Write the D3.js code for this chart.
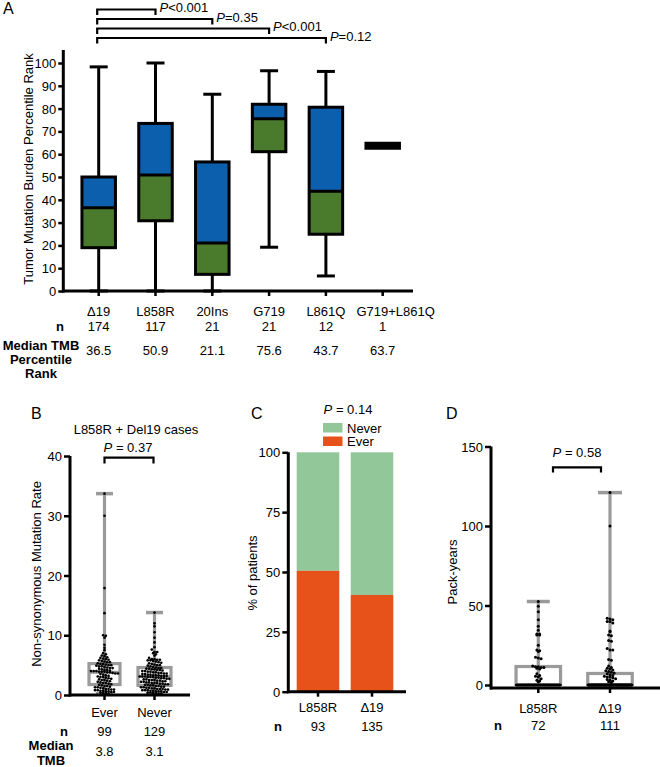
<!DOCTYPE html>
<html><head><meta charset="utf-8">
<script src="https://cdn.jsdelivr.net/npm/d3@7/dist/d3.min.js"></script>
<style>
body{margin:0;background:#fff}
svg{display:block;font-family:"Liberation Sans",Arial,Helvetica,sans-serif}
</style>
</head><body>
<svg id="chart" width="660" height="767"></svg>
<script>
// ---------- Panel A data ----------
const mutationTypes = ["Δ19","L858R","20Ins","G719","L861Q","G719+L861Q"];
const mutationN = [174,117,21,21,12,1];
const tmbMin    = [0,0,0,19.2,6.6,63.7];
const tmbQ1     = [19.0,30.8,7.3,61.1,24.9,63.7];
const tmbMedian = [36.5,50.9,21.1,75.6,43.7,63.7];
const tmbQ3     = [50.0,73.5,56.6,81.9,80.6,63.7];
const tmbMax    = [98.3,100,86.3,96.6,96.3,63.7];
const tmbTicks  = [0,10,20,30,40,50,60,70,80,90,100];
const pTargetsA = ["L858R","20Ins","G719","L861Q"];
const pLabelsA  = ["<0.001","=0.35","<0.001","=0.12"];

// ---------- Panel B data ----------
const smokingGroups = ["Ever","Never"];
const everTMB = [33.7,30.0,17.9,13.7,10.0,9.9,9.6,8.4,7.9,7.5,7.0,6.8,6.6,6.5,6.3,6.2,6.1,6.0,5.9,5.8,5.7,5.6,5.5,5.5,
  5.3,5.2,5.2,5.1,5.0,5.0,4.9,4.8,4.8,4.7,4.6,4.5,4.5,4.4,4.3,4.2,4.2,4.1,4.0,4.0,4.0,3.9,3.9,3.9,3.8,
  3.8,
  3.7,3.6,3.6,3.5,3.4,3.3,3.2,3.1,3.0,3.0,2.9,2.8,2.7,2.6,2.5,2.5,2.4,2.3,2.2,2.1,2.0,2.0,1.9,1.8,1.7,
  1.6,1.5,1.5,1.4,1.3,1.3,1.2,1.1,1.0,1.0,0.9,0.9,0.8,0.8,0.7,0.7,0.6,0.6,0.5,0.5,0.4,0.3,0.3,0.2];
const neverTMB = [13.8,12.0,11.5,10.5,9.6,8.8,8.0,7.6,7.2,7.2,7.0,6.8,6.6,6.2,6.0,6.0,5.9,5.9,5.8,5.8,5.7,5.6,5.5,5.4,5.3,5.2,5.1,5.0,5.0,4.9,4.8,4.7,
  4.6,4.5,4.5,4.4,4.4,4.3,4.3,4.2,4.2,4.1,4.0,4.0,3.9,3.9,3.8,3.8,3.7,3.7,3.6,3.6,3.5,3.5,3.4,3.4,3.3,3.3,3.3,3.2,3.2,3.2,3.1,3.1,
  3.1,
  3.0,3.0,3.0,2.9,2.9,2.8,2.8,2.7,2.7,2.6,2.6,2.5,2.5,2.5,2.4,2.4,2.3,2.3,2.2,2.2,2.1,2.1,2.0,2.0,2.0,1.9,1.9,1.8,1.8,1.7,1.7,1.6,
  1.6,1.5,1.5,1.4,1.4,1.3,1.3,1.2,1.2,1.1,1.1,1.0,1.0,1.0,0.9,0.9,0.8,0.8,0.8,0.7,0.7,0.6,0.6,0.6,0.5,0.5,0.4,0.4,0.3,0.3,0.2,0.2];
const smokingN = [99,129];
const smokingMedianTMB = ["3.8","3.1"];
const bTicks = [0,10,20,30,40];

// ---------- Panel C data ----------
const cGroups = ["L858R","Δ19"];
const everPct = [50.5,40.4];
const neverPct = [49.5,59.6];
const cN = [93,135];
const cTicks = [0,25,50,75,100];

// ---------- Panel D data ----------
const dGroups = ["L858R","Δ19"];
const l858rPackYears = [52.5,49.5,46,41,37,34.5,32,32,31.5,31.5,25,22,21.5,21,17.5,17,16.5,12,11.5,11.5,11,11,10.5,10,7,6,5.5,5,4,3,2.5,2,
  0,0,0,0,0,0,0,0,0,0,0,0,0,0,0,0,0,0,0,0,0,0,0,0,0,0,0,0,0,0,0,0,0,0,0,0,0,0,0,0];
const del19PackYears = [121,100,42,41.5,41,40,40,39,34,33.5,31.5,31,28,27.5,23,22,22,16,15.5,12,11,10.5,10,9.5,9,8.5,8,7.5,7,
  6.5,6,5.5,5,5,4.5,4,3.5,3,2.5,2,1.5,
  0,0,0,0,0,0,0,0,0,0,0,0,0,0,0,0,0,0,0,0,0,0,0,0,0,0,0,0,0,0,0,0,0,0,0,0,0,0,0,0,0,0,0,0,0,0,0,0,0,0,0,0,0,0,0,0,0,0,0,0,0,0,0,0,0,0,0,0,0,0];
const dN = [72,111];
const dTicks = [0,50,100,150];

// ---------- helpers ----------
const svg = d3.select("#chart");
const FS = 13;
const BLUE = "#0b5fad", GREEN = "#4a7a2b", GREY = "#9a9a9a";
const C_NEVER = "#92c899", C_EVER = "#e6521a";

function txt(g, x, y, s, opts={}) {
  return g.append("text").attr("x", x).attr("y", y).text(s)
    .attr("font-size", opts.size || FS)
    .attr("text-anchor", opts.anchor || "start")
    .attr("font-weight", opts.weight || "normal")
    .attr("fill", "#000");
}
function pText(g, x, y, rest, anchor) {
  const t = g.append("text").attr("x", x).attr("y", y).attr("font-size", FS)
    .attr("text-anchor", anchor || "start");
  t.append("tspan").attr("font-style", "italic").text("P");
  t.append("tspan").text(rest);
  return t;
}
function yAxis(g, scale, ticks, x, topVal, tickLen, bottomY) {
  const ax = d3.axisLeft(scale).tickValues(ticks).tickSize(tickLen).tickPadding(2).tickFormat(d3.format("d"));
  const a = g.append("g").attr("transform", `translate(${x},0)`).call(ax);
  a.select(".domain").remove();
  a.selectAll(".tick line").attr("stroke", "#000").attr("stroke-width", 2.5);
  a.selectAll(".tick text").attr("font-size", FS).attr("font-family", null).attr("fill", "#000").attr("dy", "0.35em");
  g.append("line").attr("x1", x).attr("x2", x)
    .attr("y1", (bottomY !== undefined ? bottomY : scale(0)) + 1.5).attr("y2", scale(topVal))
    .attr("stroke", "#000").attr("stroke-width", 3);
}
function xAxis(g, scale, y, x0, x1, tickLen) {
  g.append("line").attr("x1", x0).attr("x2", x1).attr("y1", y).attr("y2", y)
    .attr("stroke", "#000").attr("stroke-width", 3);
  g.selectAll(null).data(scale.domain()).enter().append("line")
    .attr("x1", d => scale(d)).attr("x2", d => scale(d))
    .attr("y1", y).attr("y2", y + tickLen).attr("stroke", "#000").attr("stroke-width", 2.5);
}
function yLabel(g, x, y, s) {
  g.append("text").attr("transform", `translate(${x},${y}) rotate(-90)`)
    .attr("text-anchor", "middle").attr("font-size", FS).text(s);
}
function swarm(values, cx, yScale, maxW, d) {
  const pts = values.map(v => ({ v, y: yScale(v) }));
  const bins = d3.group(pts, p => Math.round(p.y / d));
  const out = [];
  for (const [, arr] of bins) {
    const n = arr.length;
    const s = n > 1 ? Math.min(d, maxW / (n - 1)) : 0;
    arr.forEach((p, i) => out.push({ x: cx + (i - (n - 1) / 2) * s, y: p.y }));
  }
  return out;
}
function greyBox(g, values, cx, yScale, boxW, capW, r, maxW, d) {
  const s = values.slice().sort(d3.ascending);
  const q1 = d3.quantile(s, 0.25), med = d3.quantile(s, 0.5), q3 = d3.quantile(s, 0.75);
  const mn = d3.min(s), mx = d3.max(s);
  g.append("line").attr("x1", cx).attr("x2", cx).attr("y1", yScale(mn)).attr("y2", yScale(mx))
    .attr("stroke", GREY).attr("stroke-width", 3.2);
  [mn, mx].forEach(v => g.append("line").attr("x1", cx - capW / 2).attr("x2", cx + capW / 2)
    .attr("y1", yScale(v)).attr("y2", yScale(v)).attr("stroke", GREY).attr("stroke-width", 3.5));
  g.append("rect").attr("x", cx - boxW / 2).attr("width", boxW)
    .attr("y", yScale(q3)).attr("height", yScale(q1) - yScale(q3))
    .attr("fill", "none").attr("stroke", GREY).attr("stroke-width", 3.2);
  g.append("line").attr("x1", cx - boxW / 2).attr("x2", cx + boxW / 2)
    .attr("y1", yScale(med)).attr("y2", yScale(med)).attr("stroke", GREY).attr("stroke-width", 3);
  g.selectAll(null).data(swarm(values, cx, yScale, maxW, d)).enter().append("circle")
    .attr("cx", p => p.x).attr("cy", p => p.y).attr("r", r).attr("fill", "#000");
}

// ================= Panel A =================
const gA = svg.append("g");
const xA = d3.scalePoint().domain(mutationTypes).range([98.7, 382.7]);
const yA = d3.scaleLinear().domain([0, 100]).range([291, 63]);
txt(gA, 3, 14, "A", { size: 16 });
yAxis(gA, yA, tmbTicks, 63.3, 105.7, 5);
xAxis(gA, xA, 291, 62, 413, 5);
yLabel(gA, 33, 169, "Tumor Mutation Burden Percentile Rank");

const boxW = 33.5, capW = 18;
mutationTypes.forEach((m, i) => {
  const cx = xA(m);
  if (tmbQ1[i] === tmbQ3[i]) {
    gA.append("line").attr("x1", cx - boxW / 2 - 1.5).attr("x2", cx + boxW / 2 + 1.5)
      .attr("y1", yA(tmbMedian[i])).attr("y2", yA(tmbMedian[i]))
      .attr("stroke", "#000").attr("stroke-width", 8);
    return;
  }
  gA.append("line").attr("x1", cx).attr("x2", cx).attr("y1", yA(tmbMin[i])).attr("y2", yA(tmbMax[i]))
    .attr("stroke", "#000").attr("stroke-width", 3);
  [tmbMin[i], tmbMax[i]].forEach(v => gA.append("line")
    .attr("x1", cx - capW / 2).attr("x2", cx + capW / 2).attr("y1", yA(v)).attr("y2", yA(v))
    .attr("stroke", "#000").attr("stroke-width", 3));
  gA.append("rect").attr("x", cx - boxW / 2).attr("width", boxW)
    .attr("y", yA(tmbQ3[i])).attr("height", yA(tmbMedian[i]) - yA(tmbQ3[i])).attr("fill", BLUE);
  gA.append("rect").attr("x", cx - boxW / 2).attr("width", boxW)
    .attr("y", yA(tmbMedian[i])).attr("height", yA(tmbQ1[i]) - yA(tmbMedian[i])).attr("fill", GREEN);
  gA.append("rect").attr("x", cx - boxW / 2).attr("width", boxW)
    .attr("y", yA(tmbQ3[i])).attr("height", yA(tmbQ1[i]) - yA(tmbQ3[i]))
    .attr("fill", "none").attr("stroke", "#000").attr("stroke-width", 3);
  gA.append("line").attr("x1", cx - boxW / 2).attr("x2", cx + boxW / 2)
    .attr("y1", yA(tmbMedian[i])).attr("y2", yA(tmbMedian[i])).attr("stroke", "#000").attr("stroke-width", 3);
});
// brackets
const brY = [9.5, 19, 28.5, 38];
pTargetsA.forEach((t, i) => {
  const x0 = xA(mutationTypes[0]) - 1.5, x1 = xA(t), y = brY[i];
  gA.append("path").attr("d", `M${x0},${y + 5.5}V${y}H${x1}V${y + 5.5}`)
    .attr("fill", "none").attr("stroke", "#000").attr("stroke-width", 2.2);
  pText(gA, x1 + 4, y + 2.5, pLabelsA[i]);
});
// category labels and rows
mutationTypes.forEach((m, i) => {
  const labelShift = (i === mutationTypes.length - 1) ? 13 : 0;
  txt(gA, xA(m) + labelShift, 316, m, { anchor: "middle" });
  txt(gA, xA(m), 331, mutationN[i], { anchor: "middle" });
  txt(gA, xA(m), 354.5, tmbMedian[i].toFixed(1), { anchor: "middle" });
});
txt(gA, 60, 331, "n", { anchor: "middle", weight: "bold" });
txt(gA, 41, 349.5, "Median TMB", { anchor: "middle", weight: "bold" });
txt(gA, 41, 363.5, "Percentile", { anchor: "middle", weight: "bold" });
txt(gA, 41, 377.5, "Rank", { anchor: "middle", weight: "bold" });

// ================= Panel B =================
const gB = svg.append("g");
const xB = d3.scalePoint().domain(smokingGroups).range([104.5, 154.5]);
const yB = d3.scaleLinear().domain([0, 40]).range([695, 456]);
txt(gB, 31, 419, "B", { size: 16 });
txt(gB, 136, 434, "L858R + Del19 cases", { anchor: "middle" });
pText(gB, 128, 451.5, " = 0.37", "middle");
gB.append("path").attr("d", `M${xB("Ever")},${463.5}V${457.7}H${xB("Never") - 1}V${463.5}`)
  .attr("fill", "none").attr("stroke", "#000").attr("stroke-width", 2.2);
greyBox(gB, everTMB, xB("Ever"), yB, 31, 17, 1.35, 30, 2.7);
greyBox(gB, neverTMB, xB("Never"), yB, 33, 17, 1.35, 32, 2.7);
yAxis(gB, yB, bTicks, 70, 40, 6);
xAxis(gB, xB, 695, 69, 190, 5);
yLabel(gB, 40.5, 574, "Non-synonymous Mutation Rate");
smokingGroups.forEach((s, i) => {
  txt(gB, xB(s), 716.5, s, { anchor: "middle" });
  txt(gB, xB(s), 736, smokingN[i], { anchor: "middle" });
  txt(gB, xB(s), 756, smokingMedianTMB[i], { anchor: "middle" });
});
txt(gB, 64, 736, "n", { anchor: "middle", weight: "bold" });
txt(gB, 51, 750, "Median", { anchor: "middle", weight: "bold" });
txt(gB, 51, 764.5, "TMB", { anchor: "middle", weight: "bold" });

// ================= Panel C =================
const gC = svg.append("g");
const xC = d3.scalePoint().domain(cGroups).range([318, 372]);
const yC = d3.scaleLinear().domain([0, 100]).range([691.7, 452.3]);
const barW = 42.6;
txt(gC, 251, 419, "C", { size: 16 });
pText(gC, 348, 414, " = 0.14", "middle");
gC.append("rect").attr("x", 323).attr("y", 423).attr("width", 19.5).attr("height", 9.5).attr("fill", C_NEVER);
gC.append("rect").attr("x", 323).attr("y", 436.5).attr("width", 19.5).attr("height", 9.5).attr("fill", C_EVER);
txt(gC, 347, 432.5, "Never");
txt(gC, 347, 446, "Ever");
cGroups.forEach((g, i) => {
  const x = xC(g) - barW / 2;
  gC.append("rect").attr("x", x).attr("width", barW)
    .attr("y", yC(everPct[i] + neverPct[i])).attr("height", yC(everPct[i]) - yC(everPct[i] + neverPct[i]))
    .attr("fill", C_NEVER);
  gC.append("rect").attr("x", x).attr("width", barW)
    .attr("y", yC(everPct[i])).attr("height", yC(0) - yC(everPct[i]))
    .attr("fill", C_EVER);
});
yAxis(gC, yC, cTicks, 288.3, 100, 6);
xAxis(gC, xC, 691.7, 287, 406, 5);
yLabel(gC, 256.5, 573, "% of patients");
cGroups.forEach((g, i) => {
  txt(gC, xC(g), 712, g, { anchor: "middle" });
  txt(gC, xC(g), 731, cN[i], { anchor: "middle" });
});
txt(gC, 278, 731, "n", { anchor: "middle", weight: "bold" });

// ================= Panel D =================
const gD = svg.append("g");
const xD = d3.scalePoint().domain(dGroups).range([538.3, 610]);
const yD = d3.scaleLinear().domain([0, 150]).range([685, 446.5]);
const dAxisY = 688;
txt(gD, 446, 419, "D", { size: 16 });
pText(gD, 577, 457, " = 0.58", "middle");
gD.append("path").attr("d", `M553,472.5V467.3H601V472.5`)
  .attr("fill", "none").attr("stroke", "#000").attr("stroke-width", 2.2);
yAxis(gD, yD, dTicks, 491, 150, 6, dAxisY);
xAxis(gD, xD, dAxisY, 490, 660, 5);
greyBox(gD, l858rPackYears, xD("L858R"), yD, 44.5, 23, 1.5, 44, 2.8);
greyBox(gD, del19PackYears, xD("Δ19"), yD, 44.5, 24, 1.5, 44, 2.8);
yLabel(gD, 456.5, 572, "Pack-years");
dGroups.forEach((g, i) => {
  txt(gD, xD(g), 712.5, g, { anchor: "middle" });
  txt(gD, xD(g), 729.5, dN[i], { anchor: "middle" });
});
txt(gD, 498, 729.5, "n", { anchor: "middle", weight: "bold" });
</script>
</body></html>
